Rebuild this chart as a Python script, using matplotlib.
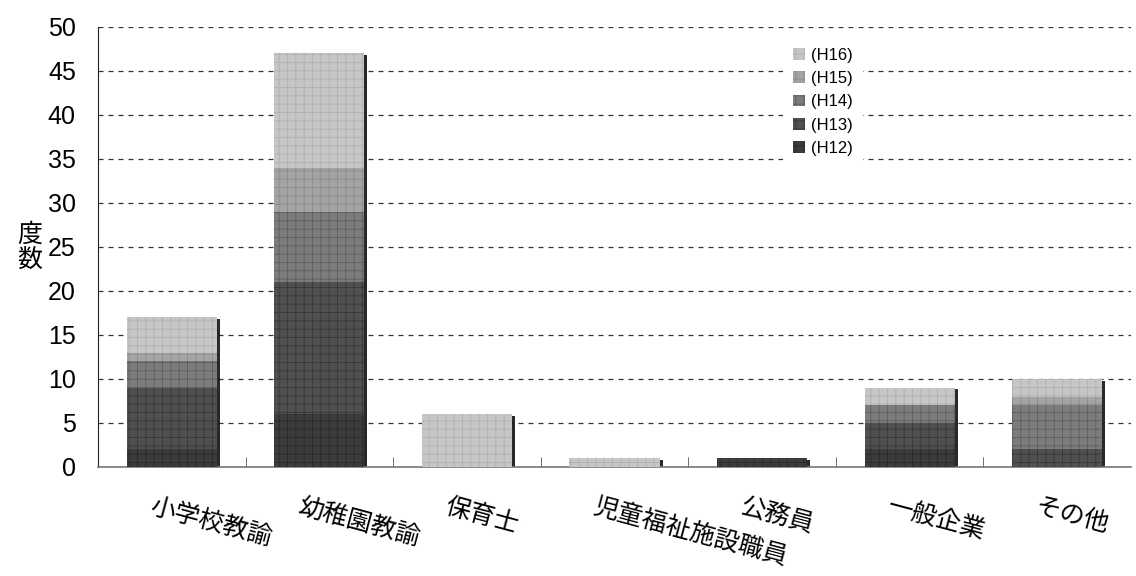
import matplotlib
matplotlib.use("Agg")
import matplotlib.pyplot as plt
import matplotlib.patheffects as pe
import numpy as np

plt.rcParams['font.family'] = ['Liberation Sans', 'Noto Sans CJK JP', 'DejaVu Sans']
plt.rcParams['hatch.linewidth'] = 0.6

categories = ['小学校教諭', '幼稚園教諭', '保育士', '児童福祉施設職員', '公務員', '一般企業', 'その他']
years = ['(H12)', '(H13)', '(H14)', '(H15)', '(H16)']
h12 = [2, 6, 0, 0, 1, 2, 0]
h13 = [7, 15, 0, 0, 0, 3, 2]
h14 = [3, 8, 0, 0, 0, 2, 5]
h15 = [1, 5, 0, 0, 0, 0, 1]
h16 = [4, 13, 6, 1, 0, 2, 2]
series = [h12, h13, h14, h15, h16]
y_ticks = [0, 5, 10, 15, 20, 25, 30, 35, 40, 45, 50]

colors = ['#3c3c3c', '#505050', '#7c7c7c', '#a4a4a4', '#c6c6c6']
hatch_colors = ['#2a2a2a', '#383838', '#5e5e5e', '#8c8c8c', '#b0b0b0']

fig = plt.figure(figsize=(11.36, 5.76), dpi=100)
ax = fig.add_axes([98 / 1136, 1 - 467 / 576, (1131 - 98) / 1136, (467 - 27) / 576])

x = np.arange(len(categories))
totals = np.sum(np.array(series, dtype=float), axis=0)

# dark backing column that casts the right-hand shadow of each stack
back = ax.bar(x, totals, width=0.61, color='#222222', linewidth=0, zorder=2)
for b in back:
    b.set_path_effects([pe.SimplePatchShadow(offset=(2.2, -1.2), shadow_rgbFace='#111111', alpha=0.9),
                        pe.Normal()])

bottom = np.zeros(len(categories))
handles = []
for vals, name, c, hc in zip(series, years, colors, hatch_colors):
    vals = np.array(vals, dtype=float)
    bars = ax.bar(x, vals, width=0.61, bottom=bottom, color=c, edgecolor=hc,
                  linewidth=0, hatch='++', label=name, zorder=3)
    handles.append(bars)
    bottom += vals

ax.set_xlim(-0.5, len(categories) - 0.5)
ax.set_ylim(0, 50)
ax.set_yticks(y_ticks)
ax.set_yticklabels([str(v) for v in y_ticks], fontsize=18)
ax.yaxis.grid(True, linestyle=(0, (4, 4)), color='#333333', linewidth=0.9, zorder=0)
ax.set_axisbelow(True)
ax.tick_params(axis='y', length=0, pad=16)

ax.set_xticks(x)
ax.set_xticklabels([])
ax.tick_params(axis='x', length=0)
ax.set_xticks(np.arange(len(categories) - 1) + 0.5, minor=True)
ax.tick_params(axis='x', which='minor', direction='in', length=7, color='#555555')

for s in ['top', 'right']:
    ax.spines[s].set_visible(False)
ax.spines['left'].set_color('#222222')
ax.spines['bottom'].set_color('#777777')
ax.spines['bottom'].set_linewidth(1.2)

for xi, lab in zip(x, categories):
    ax.text(xi - 0.12, -3.0, lab, rotation=-15, rotation_mode='anchor',
            ha='left', va='top', fontsize=18,
            family=['Noto Sans CJK JP', 'DejaVu Sans'])

ax.text(-0.066, 0.5, '度\n数', transform=ax.transAxes, ha='center', va='center',
        fontsize=18, linespacing=0.95, family=['Noto Sans CJK JP', 'DejaVu Sans'])

leg = ax.legend(handles[::-1], years[::-1], loc='upper left', bbox_to_anchor=(0.655, 0.995),
                frameon=True, facecolor='white', edgecolor='none', framealpha=1,
                fancybox=False, handlelength=0.7, handleheight=0.7,
                handletextpad=0.4, labelspacing=0.5, borderpad=0.6,
                prop={'family': ['Liberation Sans', 'DejaVu Sans'], 'size': 12})
leg.set_zorder(5)

fig.savefig('out.png', dpi=100)
